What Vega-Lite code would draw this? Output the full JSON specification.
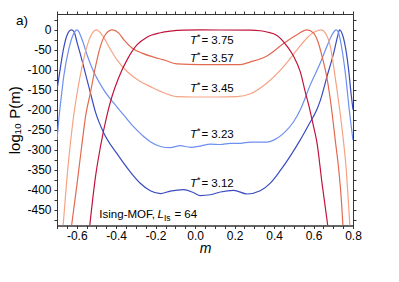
{
  "$schema": "https://vega.github.io/schema/vega-lite/v6.json",
  "width": 296,
  "height": 211.5,
  "autosize": "none",
  "padding": {"left": 57, "top": 14, "right": 46, "bottom": 56.5},
  "background": "white",
  "config": {
    "font": "Liberation Sans",
    "view": {"stroke": "#333", "strokeWidth": 1},
    "axis": {"grid": false, "domainColor": "#333", "tickColor": "#333", "labelColor": "#000", "titleColor": "#000", "labelFontSize": 12, "titleFontSize": 13, "titleFontWeight": "normal", "labelFont": "Liberation Sans", "titleFont": "Liberation Sans", "tickSize": 3, "labelOverlap": false, "labelFlush": false},
    "title": {"font": "Liberation Sans"}
  },
  "title": {"text": "a)", "anchor": "start", "frame": "group", "fontSize": 13.5, "fontWeight": "normal", "color": "#000", "dx": -41, "dy": 17, "offset": 0},
  "datasets": {
    "curves": [
      {"T":"3.12","m":-0.700,"v":-150},{"T":"3.12","m":-0.683,"v":-95},{"T":"3.12","m":-0.668,"v":-50},{"T":"3.12","m":-0.652,"v":-17},{"T":"3.12","m":-0.640,"v":-4},{"T":"3.12","m":-0.627,"v":0},{"T":"3.12","m":-0.614,"v":-4},{"T":"3.12","m":-0.598,"v":-32},{"T":"3.12","m":-0.581,"v":-62},{"T":"3.12","m":-0.565,"v":-92},{"T":"3.12","m":-0.531,"v":-157},{"T":"3.12","m":-0.505,"v":-206},{"T":"3.12","m":-0.463,"v":-258},{"T":"3.12","m":-0.396,"v":-310},{"T":"3.12","m":-0.328,"v":-356},{"T":"3.12","m":-0.278,"v":-384},{"T":"3.12","m":-0.227,"v":-403},{"T":"3.12","m":-0.176,"v":-410},{"T":"3.12","m":-0.127,"v":-404},{"T":"3.12","m":-0.058,"v":-400},{"T":"3.12","m":-0.007,"v":-408},{"T":"3.12","m":0.026,"v":-415},{"T":"3.12","m":0.077,"v":-413},{"T":"3.12","m":0.128,"v":-406},{"T":"3.12","m":0.195,"v":-402},{"T":"3.12","m":0.263,"v":-411},{"T":"3.12","m":0.330,"v":-403},{"T":"3.12","m":0.381,"v":-384},{"T":"3.12","m":0.432,"v":-352},{"T":"3.12","m":0.482,"v":-316},{"T":"3.12","m":0.532,"v":-276},{"T":"3.12","m":0.575,"v":-238},{"T":"3.12","m":0.618,"v":-198},{"T":"3.12","m":0.634,"v":-177},{"T":"3.12","m":0.668,"v":-117},{"T":"3.12","m":0.702,"v":-58},{"T":"3.12","m":0.722,"v":-16},{"T":"3.12","m":0.732,"v":0},{"T":"3.12","m":0.748,"v":-14},{"T":"3.12","m":0.764,"v":-50},{"T":"3.12","m":0.779,"v":-105},{"T":"3.12","m":0.791,"v":-163},{"T":"3.12","m":0.800,"v":-200},
      {"T":"3.23","m":-0.700,"v":-276},{"T":"3.23","m":-0.691,"v":-225},{"T":"3.23","m":-0.680,"v":-175},{"T":"3.23","m":-0.666,"v":-117},{"T":"3.23","m":-0.641,"v":-50},{"T":"3.23","m":-0.618,"v":-12},{"T":"3.23","m":-0.598,"v":0},{"T":"3.23","m":-0.573,"v":-24},{"T":"3.23","m":-0.548,"v":-62},{"T":"3.23","m":-0.514,"v":-105},{"T":"3.23","m":-0.463,"v":-150},{"T":"3.23","m":-0.413,"v":-183},{"T":"3.23","m":-0.362,"v":-213},{"T":"3.23","m":-0.311,"v":-243},{"T":"3.23","m":-0.261,"v":-267},{"T":"3.23","m":-0.227,"v":-280},{"T":"3.23","m":-0.176,"v":-292},{"T":"3.23","m":-0.126,"v":-295},{"T":"3.23","m":-0.075,"v":-290},{"T":"3.23","m":-0.024,"v":-294},{"T":"3.23","m":0.026,"v":-291},{"T":"3.23","m":0.077,"v":-286},{"T":"3.23","m":0.128,"v":-287},{"T":"3.23","m":0.178,"v":-284},{"T":"3.23","m":0.229,"v":-284},{"T":"3.23","m":0.280,"v":-281},{"T":"3.23","m":0.364,"v":-281},{"T":"3.23","m":0.398,"v":-276},{"T":"3.23","m":0.448,"v":-259},{"T":"3.23","m":0.499,"v":-230},{"T":"3.23","m":0.533,"v":-200},{"T":"3.23","m":0.584,"v":-137},{"T":"3.23","m":0.634,"v":-83},{"T":"3.23","m":0.668,"v":-41},{"T":"3.23","m":0.694,"v":-12},{"T":"3.23","m":0.715,"v":0},{"T":"3.23","m":0.731,"v":-14},{"T":"3.23","m":0.746,"v":-54},{"T":"3.23","m":0.764,"v":-120},{"T":"3.23","m":0.781,"v":-200},{"T":"3.23","m":0.800,"v":-276},
      {"T":"3.45","m":-0.669,"v":-490},{"T":"3.45","m":-0.649,"v":-368},{"T":"3.45","m":-0.632,"v":-284},{"T":"3.45","m":-0.615,"v":-213},{"T":"3.45","m":-0.598,"v":-158},{"T":"3.45","m":-0.573,"v":-92},{"T":"3.45","m":-0.548,"v":-41},{"T":"3.45","m":-0.522,"v":-9},{"T":"3.45","m":-0.500,"v":0},{"T":"3.45","m":-0.472,"v":-12},{"T":"3.45","m":-0.438,"v":-41},{"T":"3.45","m":-0.396,"v":-75},{"T":"3.45","m":-0.345,"v":-104},{"T":"3.45","m":-0.278,"v":-129},{"T":"3.45","m":-0.227,"v":-142},{"T":"3.45","m":-0.176,"v":-154},{"T":"3.45","m":-0.092,"v":-167},{"T":"3.45","m":-0.008,"v":-168},{"T":"3.45","m":0.111,"v":-168},{"T":"3.45","m":0.212,"v":-167},{"T":"3.45","m":0.280,"v":-160},{"T":"3.45","m":0.364,"v":-133},{"T":"3.45","m":0.448,"v":-92},{"T":"3.45","m":0.516,"v":-50},{"T":"3.45","m":0.567,"v":-20},{"T":"3.45","m":0.609,"v":-4},{"T":"3.45","m":0.639,"v":0},{"T":"3.45","m":0.660,"v":-8},{"T":"3.45","m":0.685,"v":-41},{"T":"3.45","m":0.702,"v":-92},{"T":"3.45","m":0.719,"v":-150},{"T":"3.45","m":0.736,"v":-213},{"T":"3.45","m":0.751,"v":-276},{"T":"3.45","m":0.766,"v":-351},{"T":"3.45","m":0.776,"v":-426},{"T":"3.45","m":0.784,"v":-490},
      {"T":"3.57","m":-0.626,"v":-490},{"T":"3.57","m":-0.598,"v":-384},{"T":"3.57","m":-0.573,"v":-284},{"T":"3.57","m":-0.554,"v":-213},{"T":"3.57","m":-0.531,"v":-158},{"T":"3.57","m":-0.505,"v":-92},{"T":"3.57","m":-0.480,"v":-41},{"T":"3.57","m":-0.455,"v":-12},{"T":"3.57","m":-0.421,"v":0},{"T":"3.57","m":-0.387,"v":-8},{"T":"3.57","m":-0.362,"v":-24},{"T":"3.57","m":-0.320,"v":-45},{"T":"3.57","m":-0.269,"v":-58},{"T":"3.57","m":-0.210,"v":-68},{"T":"3.57","m":-0.159,"v":-75},{"T":"3.57","m":-0.092,"v":-85},{"T":"3.57","m":0.026,"v":-87},{"T":"3.57","m":0.229,"v":-87},{"T":"3.57","m":0.280,"v":-80},{"T":"3.57","m":0.364,"v":-65},{"T":"3.57","m":0.448,"v":-34},{"T":"3.57","m":0.516,"v":-12},{"T":"3.57","m":0.567,"v":0},{"T":"3.57","m":0.600,"v":-8},{"T":"3.57","m":0.622,"v":-29},{"T":"3.57","m":0.643,"v":-66},{"T":"3.57","m":0.668,"v":-120},{"T":"3.57","m":0.694,"v":-208},{"T":"3.57","m":0.710,"v":-276},{"T":"3.57","m":0.728,"v":-351},{"T":"3.57","m":0.741,"v":-426},{"T":"3.57","m":0.749,"v":-490},
      {"T":"3.75","m":-0.534,"v":-490},{"T":"3.75","m":-0.505,"v":-368},{"T":"3.75","m":-0.480,"v":-293},{"T":"3.75","m":-0.446,"v":-212},{"T":"3.75","m":-0.421,"v":-166},{"T":"3.75","m":-0.387,"v":-119},{"T":"3.75","m":-0.345,"v":-75},{"T":"3.75","m":-0.294,"v":-37},{"T":"3.75","m":-0.244,"v":-18},{"T":"3.75","m":-0.176,"v":-7},{"T":"3.75","m":-0.126,"v":-3},{"T":"3.75","m":-0.058,"v":-0.5},{"T":"3.75","m":0.026,"v":0},{"T":"3.75","m":0.280,"v":-0.5},{"T":"3.75","m":0.330,"v":-2},{"T":"3.75","m":0.364,"v":-5},{"T":"3.75","m":0.415,"v":-14},{"T":"3.75","m":0.466,"v":-41},{"T":"3.75","m":0.499,"v":-66},{"T":"3.75","m":0.533,"v":-105},{"T":"3.75","m":0.558,"v":-155},{"T":"3.75","m":0.579,"v":-195},{"T":"3.75","m":0.596,"v":-233},{"T":"3.75","m":0.618,"v":-284},{"T":"3.75","m":0.643,"v":-384},{"T":"3.75","m":0.672,"v":-490}
    ],
    "labels": [
      {"T":"3.75","m":0.009,"v":-34.7,"label":"= 3.75"},
      {"T":"3.57","m":0.009,"v":-80.7,"label":"= 3.57"},
      {"T":"3.45","m":0.009,"v":-156,"label":"= 3.45"},
      {"T":"3.23","m":0.009,"v":-271,"label":"= 3.23"},
      {"T":"3.12","m":0.009,"v":-393,"label":"= 3.12"}
    ],
    "note": [
      {"m":-0.191,"v":-471.6,"pre":"Ising-MOF,","L":"L","sub":"Is","post":"= 64"}
    ]
  },
  "resolve": {"axis": {"x": "independent", "y": "independent"}},
  "layer": [
    {
      "data": {"name": "curves"},
      "mark": {"type": "line", "strokeWidth": 1.2, "interpolate": "monotone", "clip": true},
      "encoding": {
        "x": {"field": "m", "type": "quantitative", "scale": {"domain": [-0.7, 0.8], "nice": false, "zero": false},
          "axis": {"orient": "bottom", "values": [-0.7,-0.65,-0.6,-0.55,-0.5,-0.45,-0.4,-0.35,-0.3,-0.25,-0.2,-0.15,-0.1,-0.05,0,0.05,0.1,0.15,0.2,0.25,0.3,0.35,0.4,0.45,0.5,0.55,0.6,0.65,0.7,0.75,0.8],
            "labelExpr": "abs(datum.value*5 - round(datum.value*5)) < 0.001 ? (datum.value < -0.001 ? '-' : '') + format(abs(datum.value), '.1f') : ''",
            "title": "m", "titleFontStyle": "italic", "titleFontSize": 14, "titlePadding": 0, "labelPadding": 2}},
        "y": {"field": "v", "type": "quantitative", "scale": {"domain": [-490, 40], "nice": false, "zero": false},
          "axis": {"orient": "left", "values": [-475,-450,-425,-400,-375,-350,-325,-300,-275,-250,-225,-200,-175,-150,-125,-100,-75,-50,-25,0,25],
            "labelExpr": "datum.value % 50 == 0 ? (datum.value < 0 ? '-' : '') + abs(datum.value) : ''",
            "title": "log₁₀ P(m)", "titleFontSize": 15, "titlePadding": 4, "labelPadding": 3}},
        "color": {"field": "T", "type": "nominal", "legend": null,
          "scale": {"domain": ["3.12","3.23","3.45","3.57","3.75"], "range": ["#3b4cc0","#6d8ff0","#f6a385","#e2694f","#c0143c"]}},
        "order": {"field": "m", "type": "quantitative"}
      }
    },
    {
      "data": {"name": "labels"},
      "mark": {"type": "text", "align": "right", "baseline": "alphabetic", "fontSize": 11.5, "fontStyle": "italic", "color": "#000"},
      "encoding": {
        "x": {"field": "m", "type": "quantitative",
          "axis": {"orient": "top", "values": [-0.7,-0.65,-0.6,-0.55,-0.5,-0.45,-0.4,-0.35,-0.3,-0.25,-0.2,-0.15,-0.1,-0.05,0,0.05,0.1,0.15,0.2,0.25,0.3,0.35,0.4,0.45,0.5,0.55,0.6,0.65,0.7,0.75,0.8], "labels": false, "domain": false, "title": null}},
        "y": {"field": "v", "type": "quantitative",
          "axis": {"orient": "right", "values": [-475,-450,-425,-400,-375,-350,-325,-300,-275,-250,-225,-200,-175,-150,-125,-100,-75,-50,-25,0,25], "labels": false, "domain": false, "title": null}},
        "text": {"value": "T"}
      }
    },
    {
      "data": {"name": "labels"},
      "mark": {"type": "text", "align": "left", "baseline": "alphabetic", "fontSize": 9, "dx": 0, "dy": -4, "color": "#000"},
      "encoding": {
        "x": {"field": "m", "type": "quantitative", "axis": null},
        "y": {"field": "v", "type": "quantitative", "axis": null},
        "text": {"value": "*"}
      }
    },
    {
      "data": {"name": "labels"},
      "mark": {"type": "text", "align": "left", "baseline": "alphabetic", "fontSize": 11.5, "dx": 4.5, "color": "#000"},
      "encoding": {
        "x": {"field": "m", "type": "quantitative", "axis": null},
        "y": {"field": "v", "type": "quantitative", "axis": null},
        "text": {"field": "label"}
      }
    },
    {
      "data": {"name": "note"},
      "mark": {"type": "text", "align": "right", "baseline": "alphabetic", "fontSize": 11.5, "dx": -2.5, "color": "#000"},
      "encoding": {
        "x": {"field": "m", "type": "quantitative", "axis": null},
        "y": {"field": "v", "type": "quantitative", "axis": null},
        "text": {"field": "pre"}
      }
    },
    {
      "data": {"name": "note"},
      "mark": {"type": "text", "align": "left", "baseline": "alphabetic", "fontSize": 11.5, "fontStyle": "italic", "color": "#000"},
      "encoding": {
        "x": {"field": "m", "type": "quantitative", "axis": null},
        "y": {"field": "v", "type": "quantitative", "axis": null},
        "text": {"field": "L"}
      }
    },
    {
      "data": {"name": "note"},
      "mark": {"type": "text", "align": "left", "baseline": "alphabetic", "fontSize": 8.5, "dx": 6.5, "dy": 2.5, "color": "#000"},
      "encoding": {
        "x": {"field": "m", "type": "quantitative", "axis": null},
        "y": {"field": "v", "type": "quantitative", "axis": null},
        "text": {"field": "sub"}
      }
    },
    {
      "data": {"name": "note"},
      "mark": {"type": "text", "align": "left", "baseline": "alphabetic", "fontSize": 11.5, "dx": 17, "color": "#000"},
      "encoding": {
        "x": {"field": "m", "type": "quantitative", "axis": null},
        "y": {"field": "v", "type": "quantitative", "axis": null},
        "text": {"field": "post"}
      }
    }
  ]
}
